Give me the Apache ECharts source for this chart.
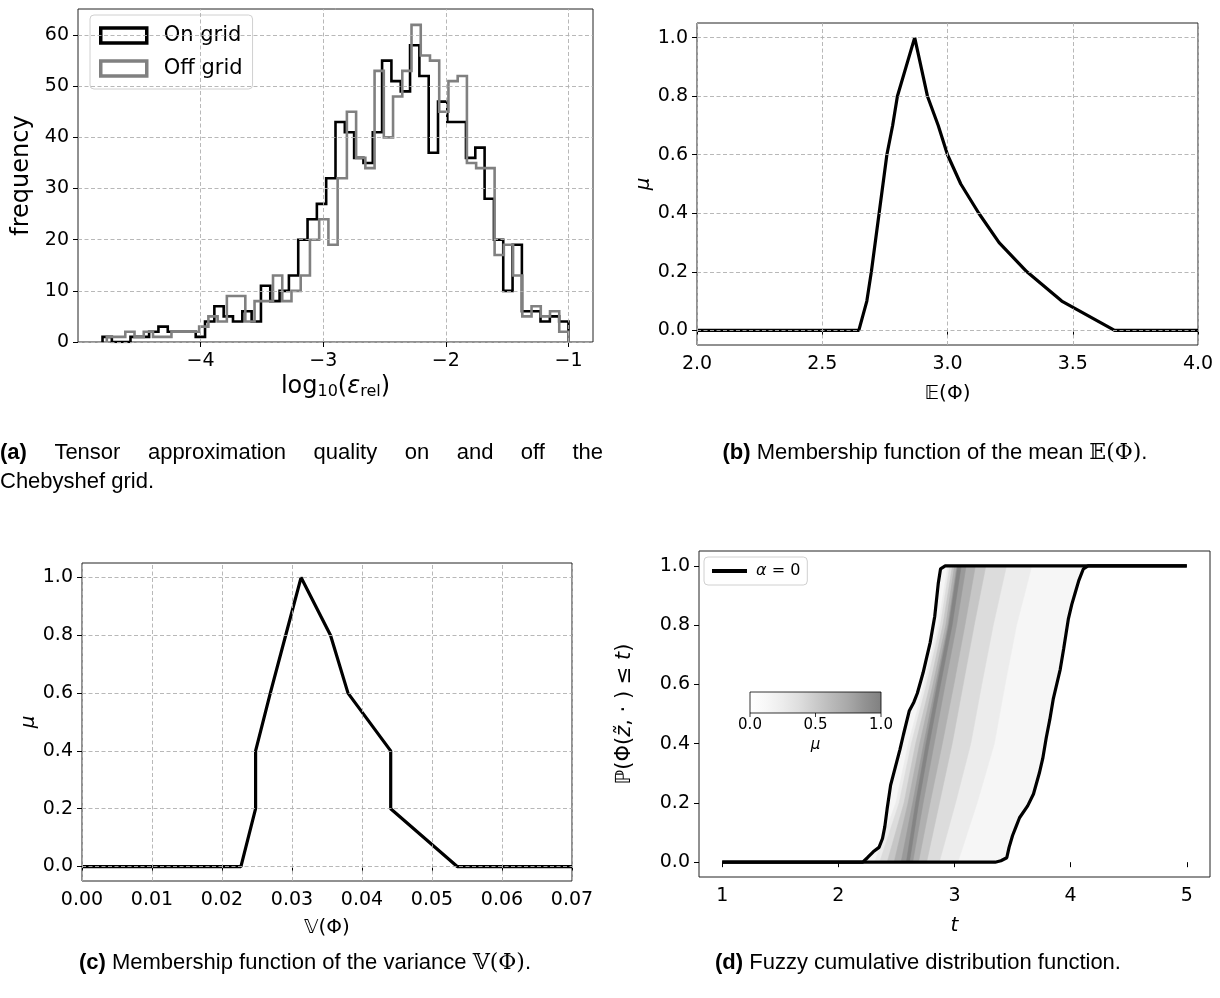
<!DOCTYPE html>
<html><head><meta charset="utf-8">
<script src="https://cdn.jsdelivr.net/npm/echarts@6/dist/echarts.min.js"></script>
<style>html,body{margin:0;padding:0;background:#fff}#chart{width:1220px;height:998px}</style>
</head><body><div id="chart"></div>
<script>
// ---------- (a) histogram data ----------
const onGridCounts = [1,0,0,1,1,2,3,2,2,2, 1,4,7,5,4,6,4,11,8,10, 13,20,24,27,32,43,41,36,35,41, 55,51,49,58,52,37,47,43,43,36, 38,28,20,10,19,6,6,4,5,4];
const offGridCounts = [1,1,2,1,2,1,1,2,2,2, 3,5,4,9,9,4,8,8,13,8, 10,13,20,24,19,32,45,36,34,53, 40,48,53,62,56,55,45,51,52,35, 34,34,17,19,13,5,7,5,6,2];
const onGridRange = [-4.80, -1.00];
const offGridRange = [-4.765, -1.00];
const histXTicks = [-4, -3, -2, -1];
const histYTicks = [0, 10, 20, 30, 40, 50, 60];

// ---------- (b) membership of mean ----------
const meanX  = [2.0, 2.646, 2.678, 2.696, 2.758, 2.781, 2.80, 2.869, 2.92, 2.963, 3.0, 3.053, 3.125, 3.206, 3.317, 3.456, 3.667, 4.0];
const meanMu = [0,   0,     0.1,   0.2,   0.6,   0.7,   0.8,  1.0,   0.8,  0.7,   0.6, 0.5,   0.4,   0.3,   0.2,   0.1,   0,     0];
const meanXTicks = [2.0, 2.5, 3.0, 3.5, 4.0];
const muTicks = [0, 0.2, 0.4, 0.6, 0.8, 1.0];

// ---------- (c) membership of variance ----------
const varX  = [0, 0.0227, 0.0248, 0.0248, 0.0269, 0.0291, 0.0313, 0.0355, 0.0380, 0.0441, 0.0441, 0.0536, 0.07];
const varMu = [0, 0,      0.2,    0.4,    0.6,    0.8,    1.0,    0.8,    0.6,    0.4,    0.2,    0,      0];
const varXTicks = [0, 0.01, 0.02, 0.03, 0.04, 0.05, 0.06, 0.07];

// ---------- (d) fuzzy CDF ----------
const lowerT = [1.0, 2.21, 2.25, 2.30, 2.35, 2.38, 2.40, 2.42, 2.45, 2.49, 2.53, 2.56, 2.61, 2.65, 2.68, 2.73, 2.76, 2.79, 2.83, 2.86, 2.88, 2.92, 5.0];
const lowerP = [0,   0,    0.015,0.035,0.05, 0.08, 0.12, 0.18, 0.26, 0.32, 0.38, 0.43, 0.51, 0.54, 0.57, 0.64, 0.69, 0.74, 0.83, 0.94, 0.99, 1.0,  1.0];
const upperT = [1.0, 3.35, 3.40, 3.45, 3.47, 3.50, 3.53, 3.56, 3.63, 3.68, 3.73, 3.76, 3.79, 3.82, 3.85, 3.88, 3.91, 3.94, 3.96, 3.98, 4.01, 4.04, 4.07, 4.11, 4.15, 5.0];
const upperP = [0,   0,    0.005,0.015,0.05, 0.09, 0.12, 0.15, 0.19, 0.23, 0.30, 0.35, 0.42, 0.48, 0.55, 0.60, 0.65, 0.72, 0.77, 0.82, 0.87, 0.91, 0.95, 0.99, 1.0,  1.0];
// alpha-cut bands: t of the left / right CDF bound at these probability levels
const bandP = [0, 0.2, 0.4, 0.6, 0.8, 1.0];
const cutLeft10  = [2.311, 2.494, 2.602, 2.738, 2.860, 2.942];
const cutRight10 = [3.029, 3.195, 3.343, 3.436, 3.535, 3.666];
const cutLeft20  = [2.355, 2.523, 2.628, 2.759, 2.878, 2.959];
const cutRight20 = [2.869, 3.009, 3.140, 3.235, 3.334, 3.448];
const cutLeft40  = [2.420, 2.565, 2.665, 2.790, 2.900, 2.982];
const cutRight40 = [2.760, 2.870, 2.980, 3.075, 3.170, 3.270];
const cutLeft60  = [2.480, 2.600, 2.700, 2.815, 2.925, 3.000];
const cutRight60 = [2.690, 2.790, 2.895, 2.995, 3.090, 3.180];
const cutLeft80  = [2.540, 2.640, 2.735, 2.838, 2.943, 3.020];
const cutRight80 = [2.640, 2.730, 2.825, 2.920, 3.018, 3.100];
const cutLeft100 = [2.585, 2.665, 2.755, 2.852, 2.952, 3.028];
const cutRight100= [2.612, 2.692, 2.783, 2.880, 2.980, 3.058];
const cdfTTicks = [1, 2, 3, 4, 5];
const cdfPTicks = [0, 0.2, 0.4, 0.6, 0.8, 1.0];
const colorbarTicks = [0.0, 0.5, 1.0];

// ---------- helpers ----------
const FONT = 'DejaVu Sans';
const CAP = 'Liberation Sans';
const GRIDC = '#b0b0b0';
function histPath(counts, range) {
  const w = (range[1] - range[0]) / counts.length;
  const pts = [[range[0], 0]];
  counts.forEach((c, i) => { pts.push([range[0] + i * w, c]); pts.push([range[0] + (i + 1) * w, c]); });
  pts.push([range[1], 0]);
  return pts;
}
const zip = (a, b) => a.map((v, i) => [v, b[i]]);
const minusFmt = v => (v < 0 ? '\u2212' + Math.abs(v) : String(v));

function xAx(gi, min, max, ticks, fmt, name, nameGap, tickSize, nameSize, rich, margin) {
  return {
    type: 'value', gridIndex: gi, min, max,
    axisLine: { show: false },
    splitLine: { show: false },
    axisTick: { show: true, length: 5, customValues: ticks, lineStyle: { color: '#000', width: 1 } },
    axisLabel: { customValues: ticks, formatter: fmt, color: '#000', fontFamily: FONT, fontSize: tickSize, margin: margin || 10 },
    name, nameLocation: 'middle', nameGap,
    nameTextStyle: { color: '#000', fontFamily: FONT, fontSize: nameSize, rich: rich || {} }
  };
}
function yAx(gi, min, max, ticks, fmt, name, nameGap, tickSize, nameSize, rich) {
  const a = xAx(gi, min, max, ticks, fmt, name, nameGap, tickSize, nameSize, rich, 9);
  a.nameRotate = 90;
  return a;
}
function gridLines(xi, yi, xs, ys) {
  return {
    type: 'line', xAxisIndex: xi, yAxisIndex: yi, data: [], silent: true, z: 1,
    markLine: {
      silent: true, symbol: 'none', label: { show: false }, animation: false,
      lineStyle: { type: [4, 2.5], color: GRIDC, width: 0.9 },
      emphasis: { disabled: true },
      data: xs.map(v => ({ xAxis: v })).concat(ys.map(v => ({ yAxis: v })))
    }
  };
}

const italA = { fontStyle: 'italic', fontFamily: FONT, fontSize: 24, color: '#000' };
const subA = { fontFamily: FONT, fontSize: 16, color: '#000', padding: [11, 0, 0, 0] };
const ital = { fontStyle: 'italic', fontFamily: FONT, fontSize: 20, color: '#000' };
const italD = { fontStyle: 'italic', fontFamily: FONT, fontSize: 21, color: '#000' };

// bands for (d)
const cutSets = [
  [cutLeft10, cutRight10], [cutLeft20, cutRight20], [cutLeft40, cutRight40],
  [cutLeft60, cutRight60], [cutLeft80, cutRight80], [cutLeft100, cutRight100]
];
const bandColors = ['#f6f6f6', '#ececec', '#dcdcdc', '#c6c6c6', '#b0b0b0', '#9a9a9a', '#848484'];
const bandPolys = [];
{
  const left = zip(lowerT, lowerP).slice(1, -1);
  const right = zip(upperT, upperP).slice(1, -1).reverse();
  bandPolys.push(left.concat(right));
  cutSets.forEach(([L, R]) => {
    const l = L.map((t, j) => [t, bandP[j]]);
    const r = R.map((t, j) => [t, bandP[j]]).reverse();
    bandPolys.push(l.concat(r));
  });
}

const chart = echarts.init(document.getElementById('chart'), null, { renderer: 'canvas' });

// captions
const ctx = document.createElement('canvas').getContext('2d');
const capSize = 22;
const capFont = (b) => (b ? 'bold ' : '') + capSize + 'px "' + CAP + '"';
const capWords = ['(a)', 'Tensor', 'approximation', 'quality', 'on', 'and', 'off', 'the'];
const capLineW = 603;
const wordW = capWords.map((w, i) => { ctx.font = capFont(i === 0); return ctx.measureText(w).width; });
const gap = (capLineW - wordW.reduce((a, b) => a + b, 0)) / (capWords.length - 1);
const capGraphics = [];
let cx = 0;
capWords.forEach((w, i) => {
  capGraphics.push({ type: 'text', x: cx, y: 453, style: { text: w, fill: '#000', font: capFont(i === 0), verticalAlign: 'middle' } });
  cx += wordW[i] + gap;
});
function capRich(txt, x, y, align) {
  return {
    type: 'text', x, y,
    style: {
      text: txt, fill: '#000', font: capFont(false), align: align || 'left', verticalAlign: 'middle',
      rich: {
        b: { fontWeight: 'bold', fontFamily: CAP, fontSize: capSize },
        m: { fontFamily: 'DejaVu Serif', fontSize: capSize }
      }
    }
  };
}
capGraphics.push({ type: 'text', x: 0, y: 482, style: { text: 'Chebyshef grid.', fill: '#000', font: capFont(false), verticalAlign: 'middle' } });
capGraphics.push(capRich('{b|(b)} Membership function of the mean {m|\u{1D53C}(\u03A6)}.', 935, 453, 'center'));
capGraphics.push(capRich('{b|(c)} Membership function of the variance {m|\u{1D54D}(\u03A6)}.', 305, 963, 'center'));
capGraphics.push(capRich('{b|(d)} Fuzzy cumulative distribution function.', 918, 963, 'center'));

// colorbar in (d)
const cbX = 750, cbY = 692, cbW = 131, cbH = 21;
const cbGraphics = [
  { type: 'rect', shape: { x: cbX, y: cbY, width: cbW, height: cbH }, z: 100,
    style: { fill: new echarts.graphic.LinearGradient(0, 0, 1, 0, [
      { offset: 0, color: '#ffffff' }, { offset: 0.125, color: '#f7f7f7' }, { offset: 0.25, color: '#ececec' },
      { offset: 0.375, color: '#dedede' }, { offset: 0.5, color: '#cbcbcb' }, { offset: 0.625, color: '#b9b9b9' },
      { offset: 0.75, color: '#a8a8a8' }, { offset: 0.875, color: '#929292' }, { offset: 1, color: '#808080' }]),
      stroke: '#000', lineWidth: 0.8 } }
];
colorbarTicks.forEach(v => {
  const x = cbX + v * cbW;
  cbGraphics.push({ type: 'line', z: 100, shape: { x1: x, y1: cbY + cbH, x2: x, y2: cbY + cbH + 4 }, style: { stroke: '#000', lineWidth: 0.8 } });
  cbGraphics.push({ type: 'text', z: 100, x, y: cbY + cbH + 5, style: { text: v.toFixed(1), fill: '#000', font: '15px "' + FONT + '"', align: 'center', verticalAlign: 'top' } });
});
cbGraphics.push({ type: 'text', z: 100, x: cbX + cbW / 2, y: cbY + cbH + 25, style: { text: '\u03BC', fill: '#000', font: 'italic 15px "' + FONT + '"', align: 'center', verticalAlign: 'top' } });

const frame = { show: true, borderColor: '#222', borderWidth: 1, backgroundColor: 'transparent' };

const option = {
  animation: false,
  backgroundColor: '#fff',
  grid: [
    Object.assign({ left: 78, top: 9, width: 515, height: 333 }, frame),
    Object.assign({ left: 697, top: 23, width: 501, height: 322 }, frame),
    Object.assign({ left: 82, top: 563, width: 490, height: 318 }, frame),
    Object.assign({ left: 699, top: 551, width: 511, height: 326 }, frame)
  ],
  xAxis: [
    xAx(0, -5, -0.8, histXTicks, minusFmt, 'log{s|10}({i|\u03B5}{s|rel})', 31, 19, 24, { i: italA, s: subA }),
    xAx(1, 2.0, 4.0, meanXTicks, v => v.toFixed(1), '\u{1D53C}(\u03A6)', 39, 19, 20),
    xAx(2, 0, 0.07, varXTicks, v => v.toFixed(2), '\u{1D54D}(\u03A6)', 37, 19, 20),
    xAx(3, 0.8, 5.2, cdfTTicks, v => String(v), '{i|t}', 39, 19, 20, { i: ital })
  ],
  yAxis: [
    yAx(0, 0, 65.1, histYTicks, v => String(v), 'frequency', 44, 19, 24),
    yAx(1, -0.05, 1.05, muTicks, v => v.toFixed(1), '{i|\u03BC}', 43, 19, 20, { i: ital }),
    yAx(2, -0.05, 1.05, muTicks, v => v.toFixed(1), '{i|\u03BC}', 42, 19, 20, { i: ital }),
    yAx(3, -0.05, 1.05, cdfPTicks, v => v.toFixed(1),
      '\u2119(\u03A6({i|z\u0303}, \u00B7 ) \u2264 {i|t})', 64, 19, 21, { i: italD })
  ],
  legend: [
    {
      orient: 'vertical', left: 90, top: 15, icon: 'rect', itemWidth: 46, itemHeight: 15, itemGap: 12,
      padding: [10, 10, 10, 9], backgroundColor: 'rgba(255,255,255,0.85)', borderColor: '#d0d0d0', borderWidth: 1, borderRadius: 4,
      textStyle: { fontFamily: FONT, fontSize: 21, color: '#000', padding: [0, 0, 0, 12] },
      data: [
        { name: 'On grid', itemStyle: { color: '#fff', borderColor: '#000', borderWidth: 3.5 } },
        { name: 'Off grid', itemStyle: { color: '#fff', borderColor: '#808080', borderWidth: 3.5 } }
      ]
    },
    {
      left: 704, top: 557, icon: 'rect', itemWidth: 35, itemHeight: 4,
      padding: [6, 7, 6, 8], backgroundColor: 'rgba(255,255,255,0.85)', borderColor: '#d0d0d0', borderWidth: 1, borderRadius: 4,
      textStyle: { fontFamily: FONT, fontSize: 16, color: '#000', padding: [0, 0, 0, 4], rich: { i: { fontStyle: 'italic', fontFamily: FONT, fontSize: 16 } } },
      formatter: () => '{i|\u03B1} = 0',
      data: [{ name: 'alpha0', itemStyle: { color: '#000' } }]
    }
  ],
  series: [
    gridLines(0, 0, histXTicks, histYTicks),
    gridLines(1, 1, meanXTicks, muTicks),
    gridLines(2, 2, varXTicks, muTicks),
    { name: 'On grid', type: 'line', xAxisIndex: 0, yAxisIndex: 0, data: histPath(onGridCounts, onGridRange),
      showSymbol: false, symbol: 'none', z: 3, lineStyle: { color: '#000', width: 2.6, join: 'miter' }, itemStyle: { color: '#000' } },
    { name: 'Off grid', type: 'line', xAxisIndex: 0, yAxisIndex: 0, data: histPath(offGridCounts, offGridRange),
      showSymbol: false, symbol: 'none', z: 4, lineStyle: { color: '#808080', width: 2.6, join: 'miter' }, itemStyle: { color: '#808080' } },
    { name: 'mean', type: 'line', xAxisIndex: 1, yAxisIndex: 1, data: zip(meanX, meanMu), symbol: 'none', z: 3,
      lineStyle: { color: '#000', width: 3.2 } },
    { name: 'var', type: 'line', xAxisIndex: 2, yAxisIndex: 2, data: zip(varX, varMu), symbol: 'none', z: 3,
      lineStyle: { color: '#000', width: 3.2 } },
    { name: 'bands', type: 'custom', xAxisIndex: 3, yAxisIndex: 3, z: 2, silent: true,
      data: bandPolys.map((_, i) => [i]),
      encode: { x: 0 },
      renderItem: (params, api) => {
        const idx = api.value(0);
        return { type: 'polygon', shape: { points: bandPolys[idx].map(p => api.coord(p)) },
                 style: { fill: bandColors[idx], stroke: bandColors[idx], lineWidth: 0.5 } };
      } },
    { name: 'alpha0', type: 'line', xAxisIndex: 3, yAxisIndex: 3, data: zip(lowerT, lowerP), symbol: 'none', z: 5,
      lineStyle: { color: '#000', width: 3.2 }, itemStyle: { color: '#000' } },
    { name: 'alpha0', type: 'line', xAxisIndex: 3, yAxisIndex: 3, data: zip(upperT, upperP), symbol: 'none', z: 5,
      lineStyle: { color: '#000', width: 3.2 }, itemStyle: { color: '#000' } }
  ],
  graphic: capGraphics.concat(cbGraphics)
};
chart.setOption(option);
</script>
</body></html>
